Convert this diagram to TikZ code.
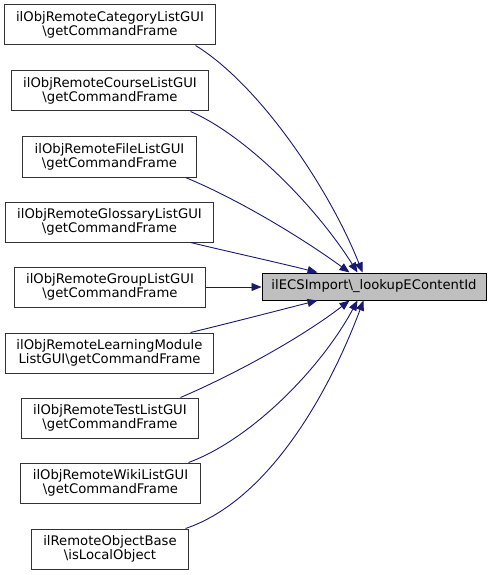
\documentclass[tikz,border=0pt]{standalone}
\usepackage{fontspec}
\setmainfont{DejaVu Sans}
\usetikzlibrary{arrows.meta}
\definecolor{edgeblue}{HTML}{191970}
\definecolor{tgtgray}{HTML}{BFBFBF}
\tikzset{
  box/.style={draw=black!80, line width=1bp, fill=white, inner sep=0pt, minimum height=40bp, align=center, font=\fontsize{13.2bp}{14bp}\selectfont},
  tbox/.style={draw=black, line width=1bp, fill=tgtgray, inner sep=0pt, minimum height=27bp, minimum width=224bp, font=\fontsize{13.2bp}{14bp}\selectfont},
  edge/.style={draw=edgeblue, line width=0.9bp, -{Triangle[length=10bp,width=8bp]}}
}
\begin{document}
\begin{tikzpicture}[x=1bp,y=-1bp]
\useasboundingbox (0,0) rectangle (491,575);
\node[box, minimum width=210bp] (cat) at (110,25) {ilObjRemoteCategoryListGUI\\\textbackslash getCommandFrame};
\node[box, minimum width=196bp] (course) at (110,91) {ilObjRemoteCourseListGUI\\\textbackslash getCommandFrame};
\node[box, minimum width=173bp] (file) at (109.5,157) {ilObjRemoteFileListGUI\\\textbackslash getCommandFrame};
\node[box, minimum width=207bp] (gloss) at (109.5,222) {ilObjRemoteGlossaryListGUI\\\textbackslash getCommandFrame};
\node[box, minimum width=190bp] (group) at (110,287) {ilObjRemoteGroupListGUI\\\textbackslash getCommandFrame};
\node[box, minimum width=207bp] (lm) at (109.5,353) {ilObjRemoteLearningModule\\ListGUI\textbackslash getCommandFrame};
\node[box, minimum width=176bp] (test) at (110,418) {ilObjRemoteTestListGUI\\\textbackslash getCommandFrame};
\node[box, minimum width=179bp] (wiki) at (110.5,483) {ilObjRemoteWikiListGUI\\\textbackslash getCommandFrame};
\node[box, minimum width=156bp] (rob) at (110,549) {ilRemoteObjectBase\\\textbackslash isLocalObject};
\node[tbox] (tgt) at (374,286.5) {ilECSImport\textbackslash\_lookupEContentId};

\draw[edge] ([xshift=-20bp]cat.south east) .. controls (260,85) and (330,190) .. ([xshift=101bp]tgt.north west);
\draw[edge] ([xshift=-18bp]course.south east) .. controls (245,135) and (315,205) .. ([xshift=96bp]tgt.north west);
\draw[edge] ([xshift=-11bp]file.south east) .. controls (240,200) and (305,240) .. ([xshift=88bp]tgt.north west);
\draw[edge] ([xshift=-23bp]gloss.south east) .. controls (230,252) and (280,263) .. ([xshift=56bp]tgt.north west);
\draw[edge] (group.east) -- (group.east -| tgt.west);
\draw[edge] ([xshift=-23bp]lm.north east) .. controls (230,323) and (280,310) .. ([xshift=56bp]tgt.south west);
\draw[edge] ([xshift=-18bp]test.north east) .. controls (240,372) and (305,335) .. ([xshift=88bp]tgt.south west);
\draw[edge] ([xshift=-12bp]wiki.north east) .. controls (250,440) and (320,370) .. ([xshift=96bp]tgt.south west);
\draw[edge] ([xshift=-3bp]rob.north east) .. controls (270,500) and (330,390) .. ([xshift=102bp]tgt.south west);
\end{tikzpicture}
\end{document}
